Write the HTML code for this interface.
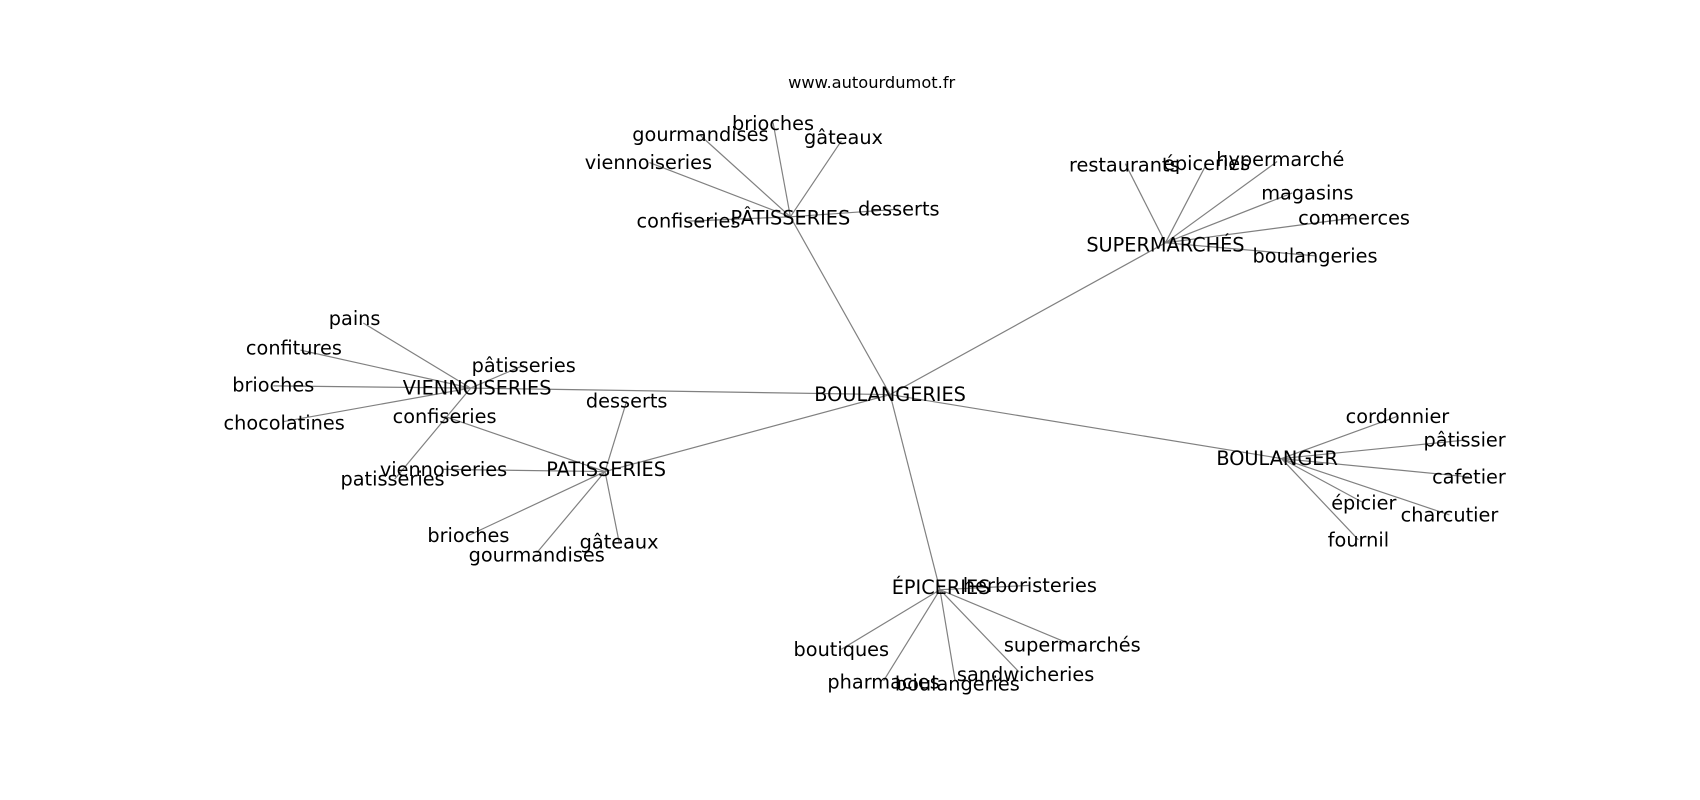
<!DOCTYPE html>
<html><head><meta charset="utf-8"><style>
html,body{margin:0;padding:0;background:#fff;}
svg{display:block;}
text{font-family:"DejaVu Sans","Liberation Sans",sans-serif;font-size:17.8px;fill:#000;text-anchor:middle;dominant-baseline:central;}
line{stroke:#808080;stroke-width:1.1;}
</style></head><body>
<svg width="1700" height="800" viewBox="0 0 1568 738" xmlns="http://www.w3.org/2000/svg">
<g>
<line x1="821" y1="364" x2="729" y2="200"/>
<line x1="821" y1="364" x2="1075" y2="224"/>
<line x1="821" y1="364" x2="434" y2="358"/>
<line x1="821" y1="364" x2="558" y2="435"/>
<line x1="821" y1="364" x2="1182" y2="423"/>
<line x1="821" y1="364" x2="867" y2="544"/>

<line x1="729" y1="200" x2="713" y2="113"/>
<line x1="729" y1="200" x2="646" y2="125"/>
<line x1="729" y1="200" x2="776" y2="130"/>
<line x1="729" y1="200" x2="599" y2="150"/>
<line x1="729" y1="200" x2="635" y2="204"/>
<line x1="729" y1="200" x2="829" y2="193"/>

<line x1="1075" y1="224" x2="1038" y2="151"/>
<line x1="1075" y1="224" x2="1113" y2="151"/>
<line x1="1075" y1="224" x2="1178" y2="149"/>
<line x1="1075" y1="224" x2="1192" y2="178"/>
<line x1="1075" y1="224" x2="1249" y2="201"/>
<line x1="1075" y1="224" x2="1213" y2="236"/>

<line x1="434" y1="358" x2="335" y2="298"/>
<line x1="434" y1="358" x2="277" y2="323"/>
<line x1="434" y1="358" x2="252" y2="356"/>
<line x1="434" y1="358" x2="261" y2="389"/>
<line x1="434" y1="358" x2="483" y2="337"/>
<line x1="434" y1="358" x2="364" y2="442"/>

<line x1="558" y1="435" x2="410" y2="384"/>
<line x1="558" y1="435" x2="409" y2="433"/>
<line x1="558" y1="435" x2="578" y2="370"/>
<line x1="558" y1="435" x2="432" y2="494"/>
<line x1="558" y1="435" x2="495" y2="510"/>
<line x1="558" y1="435" x2="571" y2="500"/>

<line x1="1182" y1="423" x2="1289" y2="384"/>
<line x1="1182" y1="423" x2="1351" y2="406"/>
<line x1="1182" y1="423" x2="1355" y2="440"/>
<line x1="1182" y1="423" x2="1337" y2="475"/>
<line x1="1182" y1="423" x2="1258" y2="464"/>
<line x1="1182" y1="423" x2="1253" y2="498"/>

<line x1="867" y1="544" x2="950" y2="540"/>
<line x1="867" y1="544" x2="989" y2="595"/>
<line x1="867" y1="544" x2="940" y2="620"/>
<line x1="867" y1="544" x2="881" y2="628"/>
<line x1="867" y1="544" x2="815" y2="628"/>
<line x1="867" y1="544" x2="776" y2="599"/>
</g>
<text x="804" y="76" style="font-size:15px">www.autourdumot.fr</text>

<text x="821" y="364">BOULANGERIES</text>
<text x="729" y="201">PÂTISSERIES</text>
<text x="1075" y="226">SUPERMARCHÉS</text>
<text x="440" y="358">VIENNOISERIES</text>
<text x="559" y="433">PATISSERIES</text>
<text x="1178" y="423">BOULANGER</text>
<text x="868" y="542">ÉPICERIES</text>

<text x="713" y="114">brioches</text>
<text x="646" y="124">gourmandises</text>
<text x="778" y="127">gâteaux</text>
<text x="598" y="150">viennoiseries</text>
<text x="635" y="204">confiseries</text>
<text x="829" y="193">desserts</text>

<text x="1037" y="152">restaurants</text>
<text x="1113" y="151">épiceries</text>
<text x="1181" y="147">hypermarché</text>
<text x="1206" y="178">magasins</text>
<text x="1249" y="201">commerces</text>
<text x="1213" y="236">boulangeries</text>

<text x="327" y="294">pains</text>
<text x="271" y="321">confitures</text>
<text x="252" y="355">brioches</text>
<text x="262" y="390">chocolatines</text>
<text x="483" y="337">pâtisseries</text>
<text x="410" y="384">confiseries</text>

<text x="578" y="370">desserts</text>
<text x="409" y="433">viennoiseries</text>
<text x="362" y="442">patisseries</text>
<text x="432" y="494">brioches</text>
<text x="495" y="512">gourmandises</text>
<text x="571" y="500">gâteaux</text>

<text x="1289" y="384">cordonnier</text>
<text x="1351" y="406">pâtissier</text>
<text x="1355" y="440">cafetier</text>
<text x="1337" y="475">charcutier</text>
<text x="1258" y="464">épicier</text>
<text x="1253" y="498">fournil</text>

<text x="950" y="540">herboristeries</text>
<text x="989" y="595">supermarchés</text>
<text x="946" y="622">sandwicheries</text>
<text x="883" y="631">boulangeries</text>
<text x="815" y="629">pharmacies</text>
<text x="776" y="599">boutiques</text>
</svg>
</body></html>
